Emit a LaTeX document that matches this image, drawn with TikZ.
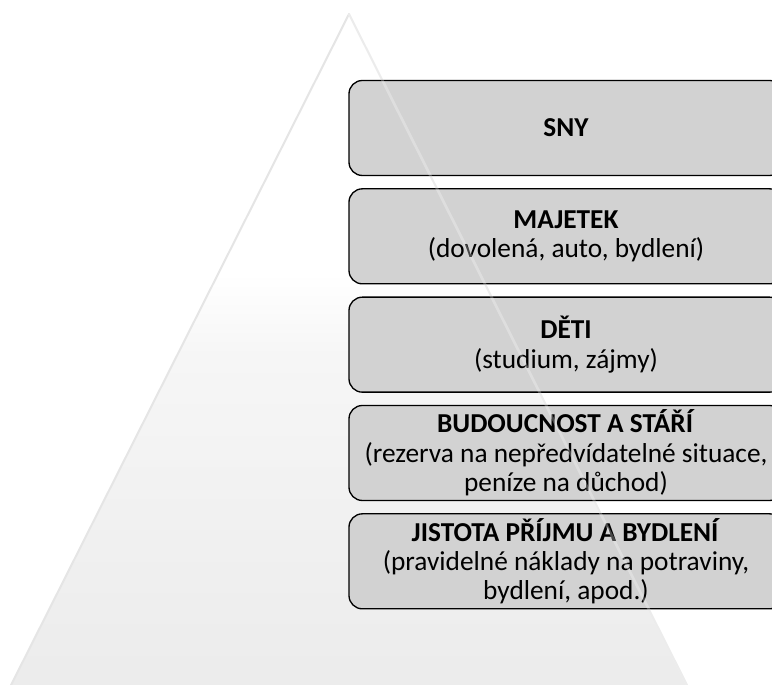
\documentclass[tikz,border=0pt]{standalone}
\usepackage{fontspec}
\setmainfont{Carlito}
\usetikzlibrary{positioning}
\pgfdeclareverticalshading{pyramidfade}{100bp}{color(0bp)=(gray!24); color(50bp)=(gray!7); color(56bp)=(white); color(100bp)=(white)}
\tikzset{tier/.style={draw=black, line width=1pt, fill=gray!35, rounded corners=10pt, minimum width=325.5pt, minimum height=71.25pt, inner sep=1pt, align=center, font=\fontsize{20.5}{22}\selectfont}, node distance=9pt}

\begin{document}
\begin{tikzpicture}[x=1pt, y=1pt]
	\useasboundingbox (0,0) rectangle (579,513.75);
	\coordinate (apex) at (261.75,503.25);
	\coordinate (baseL) at (4.5,-7.5);
	\coordinate (baseR) at (519,-7.5);
	\shade[shading=pyramidfade] (apex) -- (baseR) -- (baseL) -- cycle;
	\draw[gray!20, line width=1.5pt, line join=round] (baseL) -- (apex) -- (baseR);
	\node[tier] (sny) at (424.5,417.75) {\textbf{SNY}};
	\node[tier, below=of sny] (majetek) {\textbf{MAJETEK}\\(dovolená, auto, bydlení)};
	\node[tier, below=of majetek] (deti) {\textbf{DĚTI}\\(studium, zájmy)};
	\node[tier, below=of deti] (budoucnost) {\textbf{BUDOUCNOST A STÁŘÍ}\\(rezerva na nepředvídatelné situace,\\peníze na důchod)};
	\node[tier, below=of budoucnost] (jistota) {\textbf{JISTOTA PŘÍJMU A BYDLENÍ}\\(pravidelné náklady na potraviny,\\bydlení, apod.)};
	\draw[white, opacity=0.28, line width=2pt] (apex) -- (baseR);
\end{tikzpicture}
\end{document}
